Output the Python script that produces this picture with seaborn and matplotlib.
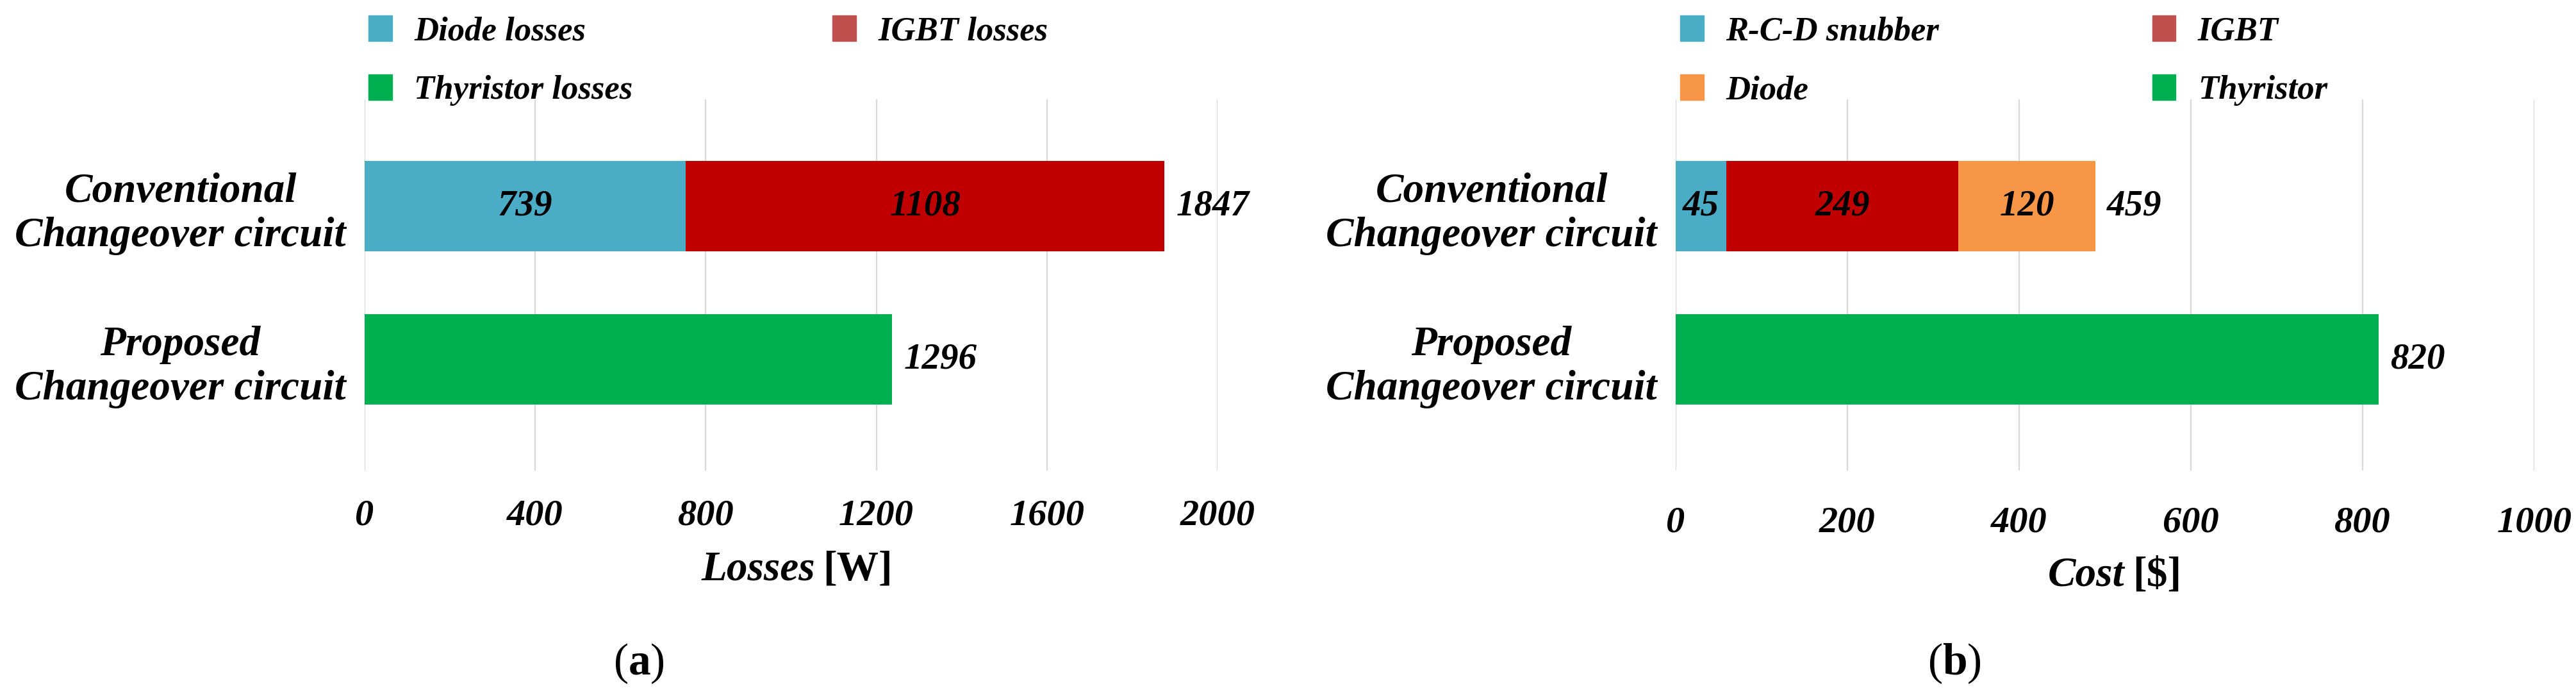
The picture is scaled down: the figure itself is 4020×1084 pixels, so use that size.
import matplotlib
matplotlib.use("Agg")
import matplotlib.pyplot as plt
import numpy as np
import seaborn as sns
from matplotlib.patches import Patch

# ==========================================
# DATA (bar lengths as drawn, printed labels)
# ==========================================
CATEGORIES = ["Conventional\nChangeover circuit", "Proposed\nChangeover circuit"]

# (a) losses [W]
LOSS_DIODE = [753, 0]
LOSS_IGBT = [1123, 0]
LOSS_THYRISTOR = [0, 1237]
LOSS_SEG_LABELS = [["739", "1108"], []]
LOSS_TOTAL_LABELS = ["1847", "1296"]
LOSS_TICKS = [0, 400, 800, 1200, 1600, 2000]

# (b) cost [$]
COST_SNUBBER = [59, 0]
COST_IGBT = [270, 0]
COST_DIODE = [160, 0]
COST_THYRISTOR = [0, 819]
COST_SEG_LABELS = [["45", "249", "120"], []]
COST_TOTAL_LABELS = ["459", "820"]
COST_TICKS = [0, 200, 400, 600, 800, 1000]

BLUE = "#4BACC6"
RED = "#C00000"
RED_LEGEND = "#C0504D"
ORANGE = "#F79646"
GREEN = "#00B050"
GRID = "#D9D9D9"

sns.set_theme(style="white")
plt.rcParams["font.family"] = ["Liberation Serif", "DejaVu Serif"]
plt.rcParams["mathtext.fontset"] = "custom"
plt.rcParams["mathtext.rm"] = "Liberation Serif"
plt.rcParams["mathtext.bf"] = "Liberation Serif:bold"
for key in ["text.color", "xtick.color", "ytick.color", "axes.labelcolor"]:
    plt.rcParams[key] = "black"

BI = dict(fontweight="bold", fontstyle="italic")
BAR_W = 0.59


def stacked(ax, segments, colors):
    """Draw horizontal stacked bars by overlaying cumulative sums."""
    cum = np.cumsum(np.array(segments, dtype=float), axis=0)
    # widest layer first so the narrower ones sit on top
    for level in range(len(segments) - 1, -1, -1):
        sns.barplot(x=cum[level], y=CATEGORIES, orient="h", color=colors[level],
                    saturation=1, width=BAR_W, linewidth=0, ax=ax)
    return cum


def style_axis(ax, ticks, tick_pad):
    ax.set_xlim(ticks[0], ticks[-1])
    ax.set_ylim(1.726, -0.697)
    ax.set_xticks(ticks)
    ax.set_xticklabels([str(t) for t in ticks], fontsize=42, **BI)
    ax.set_yticks([0, 1])
    ax.set_yticklabels(CATEGORIES, fontsize=47, **BI)
    for t in ax.get_yticklabels():
        t.set_multialignment("center")
    ax.tick_params(axis="x", length=0, pad=tick_pad)
    ax.tick_params(axis="y", length=0, pad=21)
    ax.set_xlabel("")
    ax.set_ylabel("")
    ax.grid(axis="x", color=GRID, linewidth=1.6)
    ax.set_axisbelow(True)
    sns.despine(ax=ax, left=True, bottom=True)


def annotate(ax, segments, seg_labels, total_labels):
    seg = np.array(segments, dtype=float)
    cum = np.cumsum(seg, axis=0)
    for row in range(len(CATEGORIES)):
        nonzero = [k for k in range(seg.shape[0]) if seg[k, row] > 0]
        for lbl, k in zip(seg_labels[row], nonzero):
            centre = cum[k, row] - seg[k, row] / 2
            ax.text(centre, row, lbl, ha="center", va="center", fontsize=41,
                    color="black", **BI)
        ax.annotate(total_labels[row], xy=(cum[-1, row], row), xytext=(13, 0),
                    textcoords="offset points", ha="left", va="center",
                    fontsize=41, **BI)


LEGEND_KW = dict(ncol=2, loc="upper left", bbox_transform=None, frameon=False,
                 borderpad=0, borderaxespad=0, handlelength=0.7,
                 handleheight=0.8, handletextpad=0.65, labelspacing=0.8,
                 prop=dict(family="Liberation Serif", size=38, weight="bold",
                           style="italic"))

fig = plt.figure(figsize=(40.2, 10.84), dpi=100)
ax_a = fig.add_axes([569 / 4020, 350 / 1084, 1331 / 4020, 579 / 1084])
ax_b = fig.add_axes([2615 / 4020, 350 / 1084, 1340 / 4020, 579 / 1084])
LEGEND_KW["bbox_transform"] = fig.transFigure

# ---- (a) losses
loss_segments = [LOSS_DIODE, LOSS_IGBT, LOSS_THYRISTOR]
stacked(ax_a, loss_segments, [BLUE, RED, GREEN])
style_axis(ax_a, LOSS_TICKS, 32)
annotate(ax_a, loss_segments, LOSS_SEG_LABELS, LOSS_TOTAL_LABELS)
ax_a.text(0.528, -0.266, "Losses", transform=ax_a.transAxes, ha="right",
          va="center", fontsize=47, **BI)
ax_a.text(0.537, -0.266, "[W]", transform=ax_a.transAxes, ha="left",
          va="center", fontsize=47, fontweight="bold")
ax_a.legend(handles=[Patch(color=BLUE, label="Diode losses"),
                     Patch(color=GREEN, label="Thyristor losses"),
                     Patch(color=RED_LEGEND, label="IGBT losses")],
            bbox_to_anchor=(575 / 4020, 1 - 24 / 1084), columnspacing=5.9,
            **LEGEND_KW)

# ---- (b) cost
cost_segments = [COST_SNUBBER, COST_IGBT, COST_DIODE, COST_THYRISTOR]
stacked(ax_b, cost_segments, [BLUE, RED, ORANGE, GREEN])
style_axis(ax_b, COST_TICKS, 40)
annotate(ax_b, cost_segments, COST_SEG_LABELS, COST_TOTAL_LABELS)
ax_b.text(0.523, -0.282, "Cost", transform=ax_b.transAxes, ha="right",
          va="center", fontsize=47, **BI)
ax_b.text(0.532, -0.282, "[$]", transform=ax_b.transAxes, ha="left",
          va="center", fontsize=47, fontweight="bold")
ax_b.legend(handles=[Patch(color=BLUE, label="R-C-D snubber"),
                     Patch(color=ORANGE, label="Diode"),
                     Patch(color=RED_LEGEND, label="IGBT"),
                     Patch(color=GREEN, label="Thyristor")],
            bbox_to_anchor=(2622 / 4020, 1 - 24 / 1084), columnspacing=6.3,
            **LEGEND_KW)

# ---- panel captions
fig.text(997 / 4020, 0.045, r"($\mathbf{a}$)", ha="center", va="center", fontsize=50)
fig.text(3050 / 4020, 0.045, r"($\mathbf{b}$)", ha="center", va="center", fontsize=50)

fig.savefig("out.png", dpi=100, facecolor="white")
plt.close(fig)
